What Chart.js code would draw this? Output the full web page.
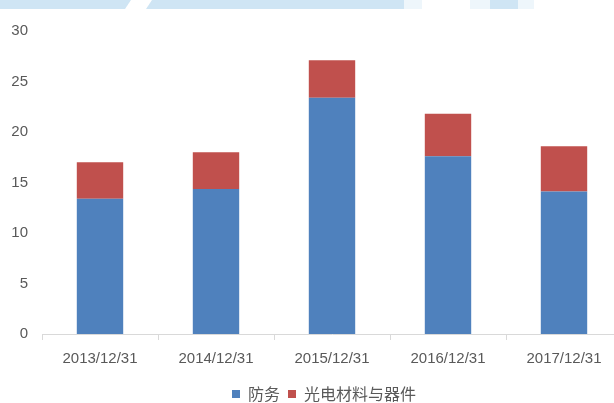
<!DOCTYPE html>
<html>
<head>
<meta charset="utf-8">
<script src="https://cdn.jsdelivr.net/npm/chart.js@4.4.1/dist/chart.umd.min.js"></script>
<style>
  html, body { margin: 0; padding: 0; background: #fff; overflow: hidden; }
  #wrap { position: relative; width: 650px; height: 403px; }
</style>
</head>
<body>
<div id="wrap"><canvas id="myChart" width="650" height="403"></canvas></div>
<script>
const categories = ['2013/12/31', '2014/12/31', '2015/12/31', '2016/12/31', '2017/12/31'];
const defense = [13.4, 14.35, 23.4, 17.6, 14.1];
const optoMaterials = [3.6, 3.65, 3.7, 4.2, 4.5];
const yTicks = [0, 5, 10, 15, 20, 25, 30];

// 顶部被截掉的浅蓝色水印条
const topBand = {
    id: 'topBand',
    beforeDraw(chart) {
        const c = chart.ctx;
        c.save();
        c.fillStyle = '#cfe5f4';
        c.beginPath();
        c.moveTo(0, 0); c.lineTo(131, 0); c.lineTo(125, 9); c.lineTo(0, 9);
        c.fill();
        c.beginPath();
        c.moveTo(152, 0); c.lineTo(404, 0); c.lineTo(404, 9); c.lineTo(146, 9);
        c.fill();
        c.fillRect(490, 0, 28, 9);
        c.fillStyle = '#eef6fb';
        c.fillRect(404, 0, 18, 9);
        c.fillRect(470, 0, 20, 9);
        c.fillRect(518, 0, 16, 9);
        c.restore();
    }
};

// 图例整体右移一点，对齐原图（原图表右侧被裁掉）
const legendShift = {
    id: 'legendShift',
    afterLayout(chart) {
        const lg = chart.legend;
        if (!lg) return;
        lg.left += 13;
        lg.right += 13;
    }
};

const ctx = document.getElementById('myChart').getContext('2d');
const myChart = new Chart(ctx, {
    type: 'bar',
    data: {
        labels: categories,
        datasets: [{
            label: '防务',
            data: defense,
            backgroundColor: '#4f81bd',
            borderWidth: 0
        }, {
            label: '光电材料与器件',
            data: optoMaterials,
            backgroundColor: '#c0504d',
            borderWidth: 0
        }]
    },
    options: {
        responsive: false,
        animation: false,
        devicePixelRatio: 1,
        datasets: {
            bar: { barPercentage: 0.4, categoryPercentage: 1.0 }
        },
        layout: { padding: { left: 0, right: 28, top: 31, bottom: -9 } },
        scales: {
            x: {
                stacked: true,
                grid: {
                    display: true,
                    drawOnChartArea: false,
                    drawTicks: true,
                    tickLength: 6,
                    color: '#d9d9d9'
                },
                border: { display: true, color: '#d9d9d9' },
                ticks: {
                    color: '#595959',
                    padding: 10,
                    maxRotation: 0,
                    font: { family: 'Liberation Sans', size: 15 }
                }
            },
            y: {
                stacked: true,
                min: 0,
                max: 30,
                afterBuildTicks(axis) {
                    axis.ticks = yTicks.map(v => ({ value: v }));
                },
                afterFit(axis) {
                    axis.width = 42;
                },
                grid: { display: false },
                border: { display: false },
                ticks: {
                    color: '#595959',
                    padding: 6,
                    font: { family: 'Liberation Sans', size: 15 }
                }
            }
        },
        plugins: {
            legend: {
                position: 'bottom',
                labels: {
                    boxWidth: 8,
                    boxHeight: 8,
                    padding: 8,
                    color: '#595959',
                    font: { family: 'Noto Sans CJK SC', size: 16 }
                }
            },
            tooltip: { enabled: false }
        }
    },
    plugins: [topBand, legendShift]
});
</script>
</body>
</html>
